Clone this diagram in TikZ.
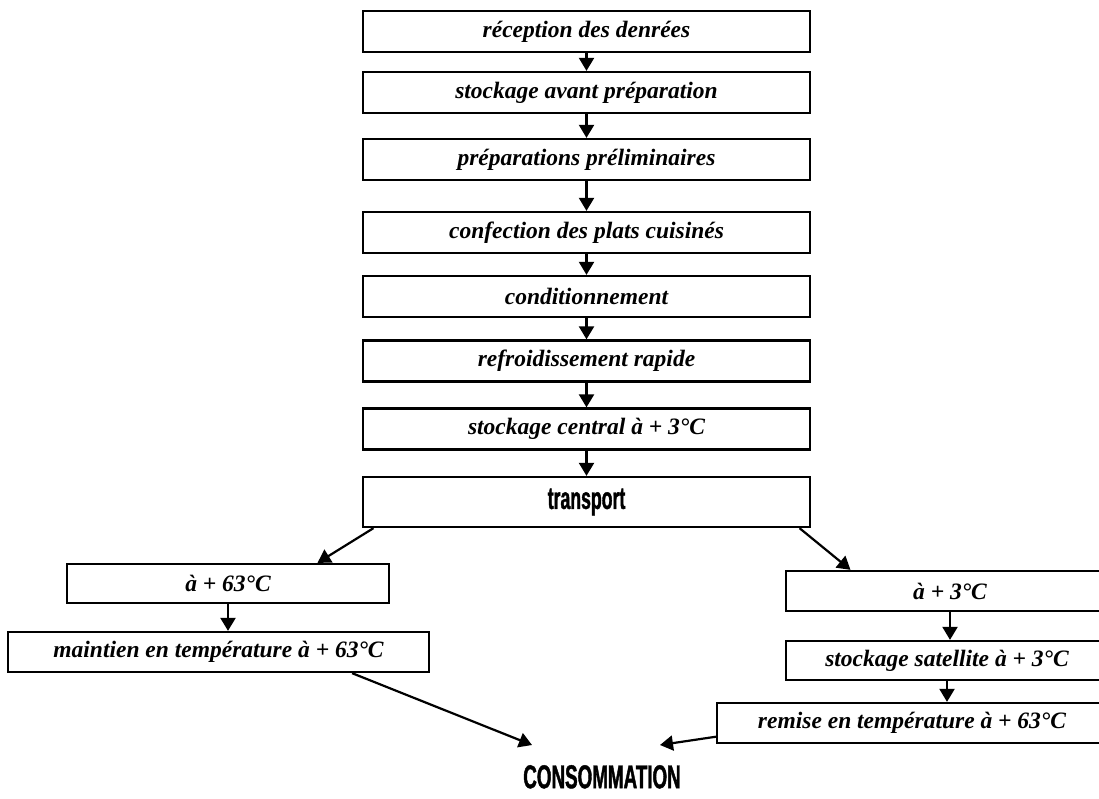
\documentclass[tikz,border=0pt]{standalone}
\usepackage{fontspec}
\setmainfont{Liberation Serif}
\newfontfamily\heavyfont{Liberation Sans}[FakeStretch=0.57, BoldFeatures={FakeBold=1.2}]
\usetikzlibrary{calc}
\usetikzlibrary{arrows.meta}
\tikzset{
    box/.style={
            draw,
            line width=2.3pt,
            fill=white,
            inner sep=0pt, % text sits in a fixed frame
            minimum height=41pt,
            font=\fontsize{23.5}{28}\selectfont\bfseries\itshape
        },
    heavy/.style={
            font=\fontsize{#1}{#1}\selectfont\heavyfont\bfseries
        },
    heavy/.default={31},
    flow/.style={
            line width=2.2pt,
            -{Triangle[width=15pt,length=13pt]}
        },
}

\begin{document}
\begin{tikzpicture}[
        x=1pt,
        y=-1pt,
    ]
    \useasboundingbox (0,0) rectangle (1099,798);
    % central chain
    \node[box, minimum width=447] (recep) at (586.5,31.5) {réception des denrées};
    \node[box, minimum width=447] (stockav) at (586.5,92.5) {stockage avant préparation};
    \node[box, minimum width=447] (prelim) at (586.5,159.5) {préparations préliminaires};
    \node[box, minimum width=447] (confec) at (586.5,232.5) {confection des plats cuisinés};
    \node[box, minimum width=447] (condit) at (586.5,296.5) {conditionnement};
    \node[box, minimum width=447] (refroid) at (586.5,361) {refroidissement rapide};
    \node[box, minimum width=447] (stockcen) at (586.5,429) {stockage central à + 3°C};
    \node[box, heavy, minimum width=447, minimum height=50] (transp) at (586.5,502) {transport};
    \foreach \a/\b in {recep/stockav, stockav/prelim, prelim/confec, confec/condit,
            condit/refroid, refroid/stockcen, stockcen/transp}
        \draw[flow] (\a) -- (\b);
    % hot branch
    \node[box, minimum width=322, minimum height=39] (chaud) at (228,583.5) {à + 63°C};
    \node[box, minimum width=421, minimum height=40] (maintien) at (218.5,652) {maintien en température à + 63°C};
    % cold branch (runs off the page edge)
    \node[box, minimum width=328, minimum height=40] (froid) at (950,591) {à + 3°C};
    \node[box, minimum width=322, minimum height=39] (stocksat) at (947,660.5) {stockage satellite à + 3°C};
    \node[box, minimum width=390, minimum height=40] (remise) at (912,723) {remise en température à + 63°C};
    % end
    \node[heavy=33, anchor=north, inner sep=0pt, text height=43pt, text depth=0pt]
        (cons) at (602,745) {CONSOMMATION};
    \draw[flow] (transp.187) -- (chaud.13);
    \draw[flow] (transp.-7) -- (froid.168);
    \draw[flow] (chaud.south) -- (chaud.south |- maintien.north);
    \draw[flow] (froid.south) -- (froid.south |- stocksat.north);
    \draw[flow] (stocksat.south) -- (stocksat.south |- remise.north);
    \draw[flow] (maintien.-9) -- ($(cons.north)+(-70,0)$);
    \draw[flow] (remise.184) -- ($(cons.north)+(58,0)$);
\end{tikzpicture}
\end{document}
